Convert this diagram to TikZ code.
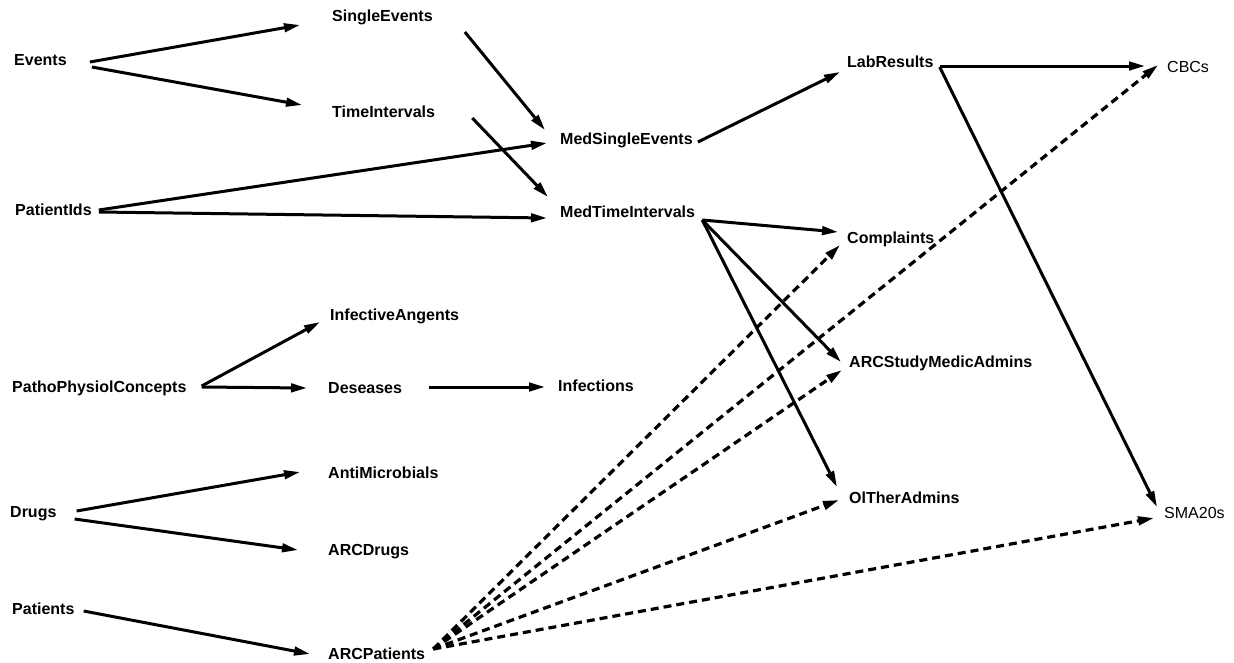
\documentclass[tikz,border=0pt]{standalone}
\usepackage{fontspec}
\setmainfont{Liberation Sans}
\usetikzlibrary{arrows.meta}
\begin{document}
\begin{tikzpicture}[x=1pt,y=-1pt,
  lbl/.style={anchor=west,inner sep=0pt,text height=11.3pt,text depth=0pt,
    font=\fontsize{16}{18}\selectfont\bfseries},
  lblr/.style={lbl,font=\fontsize{16}{18}\selectfont},
  arr/.style={line width=3pt,-{Triangle[length=16pt,width=8.5pt]}},
  darr/.style={arr,line width=3.2pt,dash pattern=on 8pt off 5pt}]
\useasboundingbox (0,0) rectangle (1234,662);
% nodes
\node[lbl] (events) at (14,60) {Events};
\node[lbl] (single) at (332,16) {SingleEvents};
\node[lbl] (time) at (332,112) {TimeIntervals};
\node[lbl] (mse) at (560,139) {MedSingleEvents};
\node[lbl] (mti) at (560,212) {MedTimeIntervals};
\node[lbl] (pids) at (15,210) {PatientIds};
\node[lbl] (lab) at (847,62) {LabResults};
\node[lblr] (cbcs) at (1167,67) {CBCs};
\node[lbl] (compl) at (847,238) {Complaints};
\node[lbl] (infa) at (330,315) {InfectiveAngents};
\node[lbl] (patho) at (12,387) {PathoPhysiolConcepts};
\node[lbl] (des) at (328,388) {Deseases};
\node[lbl] (infc) at (558,386) {Infections};
\node[lbl] (arcs) at (849,362) {ARCStudyMedicAdmins};
\node[lbl] (anti) at (328,473) {AntiMicrobials};
\node[lbl] (drugs) at (10,512) {Drugs};
\node[lbl] (olt) at (849,498) {OlTherAdmins};
\node[lblr] (sma) at (1164,513) {SMA20s};
\node[lbl] (arcd) at (328,550) {ARCDrugs};
\node[lbl] (pats) at (12,609) {Patients};
\node[lbl] (arcp) at (328,654) {ARCPatients};
% solid connectors
\draw[arr] ([shift={(23,2)}]events.east) -- ([shift={(-32,9)}]single.west);
\draw[arr] ([shift={(25,7)}]events.east) -- ([shift={(-30,-7)}]time.west);
\draw[arr] ([shift={(32,16)}]single.east) -- ([shift={(-15,-9)}]mse.west);
\draw[arr] ([shift={(37,6)}]time.east) -- ([shift={(-12,-15)}]mti.west);
\draw[arr] ([shift={(7,0)}]pids.east) -- ([shift={(-13,4)}]mse.west);
\draw[arr] ([shift={(7,2)}]pids.east) -- ([shift={(-13,6)}]mti.west);
\draw[arr] ([shift={(5,3)}]mse.east) -- ([shift={(-7,10)}]lab.west);
\draw[arr] ([shift={(6,4)}]lab.east) -- ([shift={(-22,-1)}]cbcs.west);
\draw[arr] ([shift={(6,5)}]lab.east) -- ([shift={(-7,-6)}]sma.west);
\draw[arr] ([shift={(7,8)}]mti.east) -- ([shift={(-9,-6)}]compl.west);
\draw[arr] ([shift={(7,8)}]mti.east) -- ([shift={(-8,0)}]arcs.west);
\draw[arr] ([shift={(7,8)}]mti.east) -- ([shift={(-12,-11)}]olt.west);
\draw[arr] ([shift={(15,-1)}]patho.east) -- ([shift={(-10,7)}]infa.west);
\draw[arr] ([shift={(15,0)}]patho.east) -- ([shift={(-21,0)}]des.west);
\draw[arr] ([shift={(27,-1)}]des.east) -- ([shift={(-13,1)}]infc.west);
\draw[arr] ([shift={(20,-1)}]drugs.east) -- ([shift={(-28,-1)}]anti.west);
\draw[arr] ([shift={(18,7)}]drugs.east) -- ([shift={(-30,0)}]arcd.west);
\draw[arr] ([shift={(9,2)}]pats.east) -- ([shift={(-18,0)}]arcp.west);
% dashed connectors
\draw[darr] ([shift={(8,-5)}]arcp.east) -- ([shift={(-7,7)}]compl.west);
\draw[darr] ([shift={(8,-5)}]arcp.east) -- ([shift={(-9,-2)}]cbcs.west);
\draw[darr] ([shift={(8,-5)}]arcp.east) -- ([shift={(-7,8)}]arcs.west);
\draw[darr] ([shift={(8,-5)}]arcp.east) -- ([shift={(-10,2)}]olt.west);
\draw[darr] ([shift={(8,-5)}]arcp.east) -- ([shift={(-10,5)}]sma.west);
\end{tikzpicture}
\end{document}
